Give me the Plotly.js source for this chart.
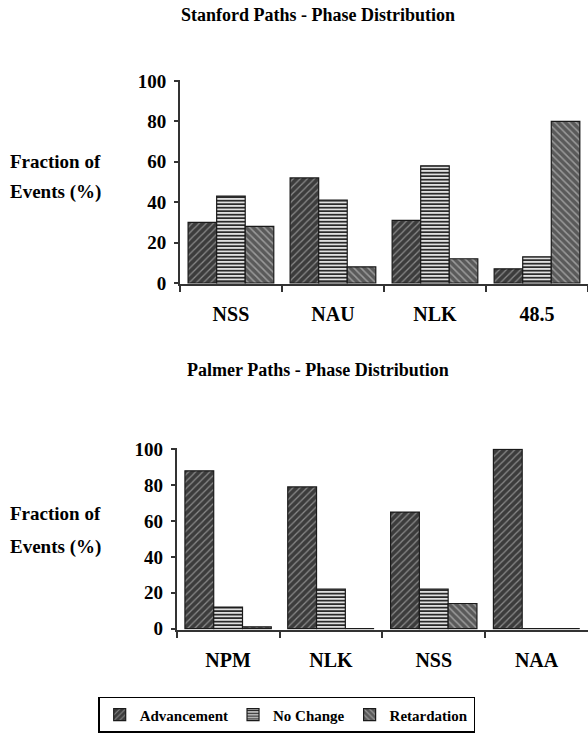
<!DOCTYPE html>
<html>
<head>
<meta charset="utf-8">
<script src="https://cdn.plot.ly/plotly-3.0.1.min.js"></script>
<style>html,body{margin:0;padding:0;background:#fff;}#chart{width:588px;height:733px;}</style>
</head>
<body>
<div id="chart"></div>
<script>
// Data
const stanfordPaths = ["NSS", "NAU", "NLK", "48.5"];
const stanfordAdvancement = [30, 52, 31, 7];
const stanfordNoChange = [43, 41, 58, 13];
const stanfordRetardation = [28, 8, 12, 80];

const palmerPaths = ["NPM", "NLK", "NSS", "NAA"];
const palmerAdvancement = [88, 79, 65, 100];
const palmerNoChange = [12, 22, 22, 0];
const palmerRetardation = [1, 0, 14, 0];

const seriesNames = ["Advancement", "No Change", "Retardation"];
const yTickVals = [0, 20, 40, 60, 80, 100];

const FONT = "Liberation Serif, Times New Roman, serif";
const styles = [
  {shape: "/", bgcolor: "#3c3c3c", fgcolor: "#8a8a8a", size: 5, solidity: 0.25},
  {shape: "-", bgcolor: "#e0e0e0", fgcolor: "#2a2a2a", size: 3.5, solidity: 0.5},
  {shape: "\\", bgcolor: "#5a5a5a", fgcolor: "#9a9a9a", size: 5, solidity: 0.3}
];

function mk(x, y, i, xa, ya, show) {
  return {
    type: "bar", x: x, y: y, name: seriesNames[i], xaxis: xa, yaxis: ya,
    showlegend: show, legendgroup: seriesNames[i],
    marker: {color: styles[i].bgcolor, pattern: styles[i], line: {color: "#1a1a1a", width: 1.2}},
    hoverinfo: "x+y+name"
  };
}

const traces = [
  mk(stanfordPaths, stanfordAdvancement, 0, "x", "y", true),
  mk(stanfordPaths, stanfordNoChange, 1, "x", "y", true),
  mk(stanfordPaths, stanfordRetardation, 2, "x", "y", true),
  mk(palmerPaths, palmerAdvancement, 0, "x2", "y2", false),
  mk(palmerPaths, palmerNoChange, 1, "x2", "y2", false),
  mk(palmerPaths, palmerRetardation, 2, "x2", "y2", false)
];

const tickFont = {family: FONT, size: 19, color: "#000", weight: "bold"};
const xTickFont = {family: FONT, size: 20, color: "#000", weight: "bold"};

function xAxis(domain, anchor) {
  return {
    domain: domain, anchor: anchor, type: "category",
    showline: true, linecolor: "#333", linewidth: 2,
    ticks: "outside", tickson: "boundaries", ticklen: 6, tickwidth: 2, tickcolor: "#333",
    showgrid: false, zeroline: false, tickfont: xTickFont, ticklabelstandoff: 11,
    fixedrange: true
  };
}
function yAxis(domain, anchor) {
  return {
    domain: domain, anchor: anchor, range: [-0.6, 100.5],
    tickvals: yTickVals, ticktext: yTickVals.map(String),
    showline: true, linecolor: "#333", linewidth: 2,
    ticks: "outside", ticklen: 4, tickwidth: 2, tickcolor: "#333",
    showgrid: false, zeroline: false, tickfont: tickFont, ticklabelstandoff: 4,
    fixedrange: true
  };
}

const annFont = {family: FONT, size: 19, color: "#000", weight: "bold"};
const titleFont = {family: FONT, size: 18, color: "#000", weight: "bold"};
const layout = {
  width: 588, height: 733,
  margin: {l: 0, r: 0, t: 0, b: 0},
  paper_bgcolor: "#fff", plot_bgcolor: "#fff",
  barmode: "group", bargap: 0.16, bargroupgap: 0,
  font: {family: FONT, color: "#000"},
  xaxis: xAxis([0.306, 1], "y"),
  yaxis: yAxis([0.6085, 0.8899], "x"),
  xaxis2: xAxis([0.3005, 1], "y2"),
  yaxis2: yAxis([0.1327, 0.3824], "x2"),
  showlegend: true,
  legend: {
    orientation: "h", x: 0.167, xanchor: "left", y: 0.04, yanchor: "top",
    bordercolor: "#000", borderwidth: 1.5, bgcolor: "#fff",
    font: {family: FONT, size: 15, color: "#000", weight: "bold"},
    itemwidth: 30, tracegroupgap: 0,
    traceorder: "normal"
  },
  annotations: [
    {text: "Stanford Paths - Phase Distribution", x: 318/588, y: 1 - 15/733, xref: "paper", yref: "paper",
     xanchor: "center", yanchor: "middle", showarrow: false, font: titleFont},
    {text: "Palmer Paths - Phase Distribution", x: 318/588, y: 1 - 374/733, xref: "paper", yref: "paper",
     xanchor: "center", yanchor: "middle", showarrow: false, font: titleFont},
    {text: "Fraction of", x: 8/588, y: 1 - 163/733, xref: "paper", yref: "paper", xanchor: "left", yanchor: "middle", showarrow: false, font: annFont},
    {text: "Events (%)", x: 8/588, y: 1 - 194/733, xref: "paper", yref: "paper", xanchor: "left", yanchor: "middle", showarrow: false, font: annFont},
    {text: "Fraction of", x: 8/588, y: 1 - 518/733, xref: "paper", yref: "paper", xanchor: "left", yanchor: "middle", showarrow: false, font: annFont},
    {text: "Events (%)", x: 8/588, y: 1 - 552/733, xref: "paper", yref: "paper", xanchor: "left", yanchor: "middle", showarrow: false, font: annFont}
  ]
};

Plotly.newPlot("chart", traces, layout, {displayModeBar: false, staticPlot: true});
</script>
</body>
</html>
